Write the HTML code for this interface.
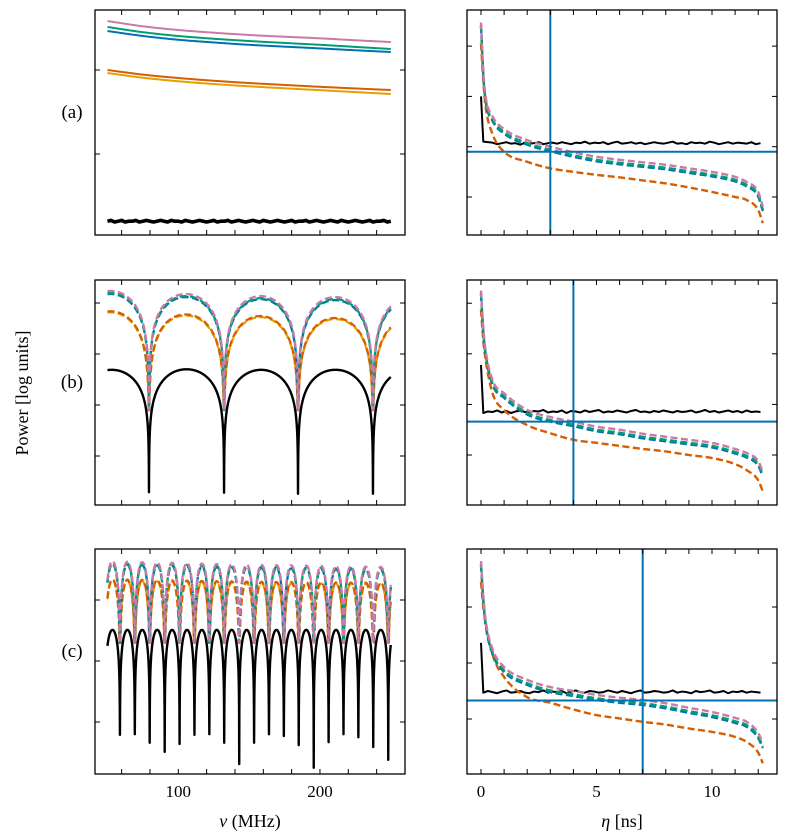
<!DOCTYPE html>
<html><head><meta charset="utf-8"><style>
html,body{margin:0;padding:0;background:#fff;}
svg{display:block;font-family:"Liberation Serif",serif;}
</style></head><body>
<svg id="fig" width="788" height="840" viewBox="0 0 788 840" xmlns="http://www.w3.org/2000/svg">
<defs>
<clipPath id="cL1"><rect x="95" y="10" width="310" height="225"/></clipPath>
<clipPath id="cL2"><rect x="95" y="280" width="310" height="225"/></clipPath>
<clipPath id="cL3"><rect x="95" y="549" width="310" height="225"/></clipPath>
<clipPath id="cR1"><rect x="467" y="10" width="310" height="225"/></clipPath>
<clipPath id="cR2"><rect x="467" y="280" width="310" height="225"/></clipPath>
<clipPath id="cR3"><rect x="467" y="549" width="310" height="225"/></clipPath>
</defs>
<text x="0" y="0" transform="translate(28,393) rotate(-90)" text-anchor="middle" font-size="18">Power [log units]</text>
<text x="72" y="118" text-anchor="middle" font-size="19">(a)</text>
<text x="72" y="388" text-anchor="middle" font-size="19">(b)</text>
<text x="72" y="657" text-anchor="middle" font-size="19">(c)</text>
<text x="250" y="827" text-anchor="middle" font-size="18"><tspan font-style="italic">ν</tspan> (MHz)</text>
<text x="622" y="827" text-anchor="middle" font-size="18"><tspan font-style="italic">η</tspan> [ns]</text>
</svg>
<script>
// ---------- data ----------
const nuEnv = [50, 75, 100, 125, 150, 175, 200, 225, 250];
// row a (left): smooth spectra
const aPink = [1.583, 1.520, 1.476, 1.444, 1.417, 1.396, 1.377, 1.354, 1.333];
const aGreen = [1.512, 1.450, 1.405, 1.372, 1.345, 1.322, 1.300, 1.275, 1.250];
const aBlue = [1.464, 1.405, 1.360, 1.328, 1.300, 1.278, 1.257, 1.235, 1.214];
const aVerm = [1.000, 0.945, 0.905, 0.872, 0.845, 0.822, 0.800, 0.780, 0.762];
const aYellow = [0.964, 0.908, 0.866, 0.833, 0.806, 0.782, 0.760, 0.737, 0.714];
const aBlack = [-0.80,-0.79,-0.81,-0.80,-0.79,-0.81,-0.80,-0.80,-0.79,-0.81,-0.80,-0.79,-0.80,-0.81,-0.80,-0.79,-0.80,-0.81,-0.79,-0.80,-0.80,-0.81,-0.79,-0.80,-0.81,-0.80,-0.79,-0.80,-0.81,-0.80,-0.79,-0.81,-0.80,-0.80,-0.79,-0.81,-0.80,-0.79,-0.80,-0.81,-0.80,-0.79,-0.80,-0.81,-0.79,-0.80,-0.81,-0.80,-0.79,-0.80,-0.81,-0.80,-0.79,-0.81,-0.80,-0.80,-0.79,-0.81,-0.80,-0.79,-0.80,-0.81,-0.80,-0.79,-0.80,-0.81,-0.79,-0.80,-0.81,-0.80,-0.79,-0.80,-0.81,-0.80,-0.79,-0.81,-0.80,-0.80,-0.79,-0.81,-0.80];
// row b (left): one reflection
const bDips = [79.3, 132.3, 184.5, 237.4];
const bBlackFloor = [-0.71, -0.72, -0.74, -0.74];
const bBlackEnv = [1.69, 1.69, 1.70, 1.70, 1.69, 1.69, 1.69, 1.69, 1.69];
const bPink = [3.24, 3.21, 3.18, 3.16, 3.14, 3.13, 3.12, 3.11, 3.10];
const bGreen = [3.20, 3.17, 3.14, 3.12, 3.10, 3.09, 3.08, 3.07, 3.06];
const bBlue = [3.18, 3.15, 3.12, 3.10, 3.08, 3.07, 3.06, 3.05, 3.04];
const bVerm = [2.84, 2.81, 2.78, 2.76, 2.75, 2.73, 2.71, 2.70, 2.69];
const bYellow = [2.82, 2.79, 2.76, 2.74, 2.73, 2.71, 2.69, 2.68, 2.67];
const bColFloor = [0.9, 0.9, 0.9, 0.9];
// row c (left): many reflections
const cDips = [58.8,69.3,79.8,90.4,100.9,111.4,121.9,132.4,143.0,153.5,164.0,174.5,185.0,195.6,206.1,216.6,227.1,237.6,248.2];
const cBlackFloor = [-0.21,-0.20,-0.34,-0.49,-0.36,-0.21,-0.20,-0.34,-0.69,-0.34,-0.20,-0.23,-0.38,-0.75,-0.33,-0.20,-0.25,-0.41,-0.62];
const cBlackEnv = [1.51, 1.51, 1.51, 1.51, 1.51, 1.51, 1.51, 1.51, 1.51];
const cPink = [2.64, 2.62, 2.61, 2.59, 2.58, 2.57, 2.56, 2.55, 2.54];
const cGreen = [2.61, 2.59, 2.58, 2.56, 2.55, 2.54, 2.53, 2.52, 2.51];
const cBlue = [2.59, 2.57, 2.56, 2.54, 2.53, 2.52, 2.51, 2.50, 2.49];
const cVerm = [2.34, 2.33, 2.32, 2.31, 2.30, 2.295, 2.29, 2.285, 2.28];
const cYellow = [2.32, 2.31, 2.30, 2.29, 2.28, 2.275, 2.27, 2.265, 2.26];
const cColFloor = [1.3,1.3,1.3,1.3,1.3,1.3,1.3,1.3,1.3,1.3,1.3,1.3,1.3,1.3,1.3,1.3,1.3,1.3,1.3];
// right panels: delay spectra
const etaGrid = [0,0.1,0.2,0.5,1,2,3,4,5,6,7,8,9,10,11,11.5,12,12.2];
const raPink = [3.47,2.5,2.0,1.6,1.35,1.13,1.0,0.89,0.8,0.74,0.69,0.64,0.57,0.5,0.4,0.3,0.1,-0.19];
const raGreen = [3.42,2.44,1.94,1.54,1.29,1.07,0.94,0.83,0.74,0.68,0.63,0.58,0.51,0.44,0.34,0.24,0.04,-0.25];
const raBlue = [3.40,2.41,1.91,1.51,1.26,1.04,0.91,0.80,0.71,0.65,0.60,0.55,0.48,0.41,0.31,0.21,0.01,-0.28];
const raVerm = [3.05,2.3,1.8,1.25,0.9,0.7,0.57,0.5,0.44,0.39,0.33,0.27,0.19,0.1,0.0,-0.06,-0.26,-0.52];
const rbPink = [3.25,2.5,2.07,1.48,1.22,0.89,0.75,0.66,0.56,0.5,0.42,0.36,0.3,0.24,0.12,0.04,-0.12,-0.33];
const rbGreen = [3.20,2.44,2.01,1.42,1.16,0.83,0.69,0.60,0.50,0.44,0.36,0.30,0.24,0.18,0.06,-0.02,-0.18,-0.39];
const rbBlue = [3.18,2.41,1.98,1.39,1.13,0.80,0.66,0.57,0.47,0.41,0.33,0.27,0.21,0.15,0.03,-0.05,-0.21,-0.42];
const rbVerm = [2.87,2.25,1.88,1.22,0.89,0.59,0.43,0.3,0.24,0.18,0.12,0.07,0.0,-0.06,-0.18,-0.3,-0.5,-0.72];
const rcPink = [2.82,2.2,1.77,1.25,0.93,0.70,0.57,0.5,0.43,0.38,0.34,0.28,0.2,0.125,0.02,-0.05,-0.25,-0.43];
const rcGreen = [2.77,2.14,1.71,1.19,0.87,0.64,0.51,0.44,0.37,0.32,0.28,0.22,0.14,0.065,-0.04,-0.11,-0.31,-0.49];
const rcBlue = [2.75,2.11,1.68,1.16,0.84,0.61,0.48,0.41,0.34,0.29,0.25,0.19,0.11,0.035,-0.07,-0.14,-0.34,-0.52];
const rcVerm = [2.45,2.0,1.71,1.15,0.75,0.39,0.29,0.17,0.07,0.01,-0.05,-0.1,-0.17,-0.23,-0.32,-0.41,-0.6,-0.79];
const blackStart = [2.0, 1.78, 1.36];
const raBlack = [1.10,1.09,1.08,1.05,1.07,1.09,1.06,1.07,1.04,1.08,1.06,1.07,1.09,1.05,1.07,1.08,1.06,1.09,1.07,1.05,1.08,1.07,1.10,1.06,1.08,1.07,1.09,1.05,1.08,1.10,1.06,1.07,1.09,1.06,1.08,1.05,1.07,1.09,1.07,1.06,1.08,1.10,1.06,1.07,1.05,1.09,1.07,1.08,1.06,1.10,1.08,1.05,1.07,1.09,1.06,1.08,1.07,1.06,1.09,1.05,1.07];
const rbBlack = [0.83,0.86,0.85,0.88,0.84,0.87,0.83,0.86,0.88,0.85,0.84,0.87,0.86,0.89,0.84,0.86,0.85,0.88,0.83,0.87,0.86,0.84,0.88,0.85,0.87,0.89,0.84,0.86,0.85,0.88,0.86,0.84,0.87,0.89,0.85,0.86,0.84,0.87,0.85,0.88,0.86,0.84,0.87,0.85,0.86,0.88,0.84,0.86,0.89,0.85,0.87,0.84,0.86,0.88,0.85,0.87,0.84,0.88,0.85,0.86,0.85];
const rcBlack = [0.47,0.50,0.48,0.46,0.49,0.51,0.47,0.48,0.50,0.47,0.46,0.49,0.48,0.51,0.47,0.49,0.48,0.50,0.46,0.49,0.51,0.48,0.47,0.50,0.49,0.47,0.48,0.51,0.49,0.47,0.50,0.48,0.46,0.49,0.51,0.47,0.48,0.50,0.49,0.47,0.48,0.51,0.47,0.49,0.48,0.46,0.50,0.48,0.49,0.51,0.47,0.48,0.50,0.46,0.49,0.48,0.50,0.47,0.49,0.48,0.47];
const hLine = [0.9, 0.66, 0.33];
const vLine = [3, 4, 7];
const nuTicks = [100, 200];
const etaTicks = [0, 5, 10];

// ---------- layout ----------
const NS = 'http://www.w3.org/2000/svg';
const svg = document.getElementById('fig');
const rows = [{t:10,b:235},{t:280,b:505},{t:549,b:774}];
const L = {x0:95, x1:405}, R = {x0:467, x1:777};
const yL = [{z:154,u:84},{z:456,u:51},{z:722,u:61}];
const yR = [{z:197,u:50.3},{z:455,u:50.6},{z:719,u:56}];
const xNu = v => 178.3 + (v - 100) * 1.4167;
const xEta = v => 481 + v * 23.1;
const C = {pink:'#CC79A7', green:'#009E73', blue:'#0072B2', verm:'#D55E00', yellow:'#E69F00', black:'#000'};

function mk(tag, attrs, parent) {
  const e = document.createElementNS(NS, tag);
  for (const k in attrs) e.setAttribute(k, attrs[k]);
  (parent || svg).appendChild(e);
  return e;
}
// monotone cubic (Fritsch-Carlson) interpolation through read points
function interp(xs, ys, x) {
  const n = xs.length;
  if (x <= xs[0]) return ys[0];
  if (x >= xs[n-1]) return ys[n-1];
  const d = [], m = [];
  for (let i = 0; i < n-1; i++) d.push((ys[i+1]-ys[i])/(xs[i+1]-xs[i]));
  m.push(d[0]);
  for (let i = 1; i < n-1; i++) m.push(d[i-1]*d[i] <= 0 ? 0 : (d[i-1]+d[i])/2);
  m.push(d[n-2]);
  for (let i = 0; i < n-1; i++) {
    if (d[i] === 0) { m[i] = 0; m[i+1] = 0; continue; }
    const a = m[i]/d[i], b = m[i+1]/d[i], s = a*a + b*b;
    if (s > 9) { const t = 3/Math.sqrt(s); m[i] = t*a*d[i]; m[i+1] = t*b*d[i]; }
  }
  let k = 0; while (x > xs[k+1]) k++;
  const h = xs[k+1]-xs[k], t = (x-xs[k])/h;
  const h00 = 2*t*t*t-3*t*t+1, h10 = t*t*t-2*t*t+t, h01 = -2*t*t*t+3*t*t, h11 = t*t*t-t*t;
  return h00*ys[k] + h10*h*m[k] + h01*ys[k+1] + h11*h*m[k+1];
}
function drawLine(g, pts, color, w, dash, name) {
  const p = mk('polyline', {points: pts.map(q => q[0].toFixed(2)+','+q[1].toFixed(2)).join(' '), fill:'none', stroke:color, 'stroke-width':w, 'stroke-linejoin':'round', 'stroke-dasharray':dash || 'none'}, g);
  
  
}
function osc(nu, env, dips, floors, D) {
  let k = 0; for (let i = 1; i < dips.length; i++) if (Math.abs(nu - dips[i]) < Math.abs(nu - dips[k])) k = i;
  const P = (dips[dips.length-1] - dips[0]) / (dips.length - 1);
  const s = Math.abs(Math.sin(Math.PI * (nu - dips[k]) / P));
  const v = interp(nuEnv, env, nu) + D * Math.log10(Math.max(s, 1e-9));
  return Math.max(v, floors[k]);
}
function oscPts(env, dips, floors, D, ym) {
  const xs = [];
  for (let v = 50; v <= 250.0001; v += 0.1) xs.push(v);
  dips.forEach(d => xs.push(d));
  xs.sort((a,b)=>a-b);
  return xs.map(v => [xNu(v), ym.z - ym.u * osc(v, env, dips, floors, D)]);
}
function frame(px, r, name) {
  const f = mk('rect', {x:px.x0, y:r.t, width:px.x1-px.x0, height:r.b-r.t, fill:'none', stroke:'#000', 'stroke-width':1.3});
  
  
}
function yTicks(px, r, ym, name) {
  for (let k = -2; k <= 5; k++) {
    const y = ym.z - ym.u * k;
    if (y < r.t + 4 || y > r.b - 4) continue;
    const t1 = mk('line', {x1:px.x0, x2:px.x0+5, y1:y, y2:y, stroke:'#000', 'stroke-width':1});
    
    
    const t2 = mk('line', {x1:px.x1-5, x2:px.x1, y1:y, y2:y, stroke:'#000', 'stroke-width':1});
    
    
  }
}
function xTicks(vals, xf, r, name) {
  vals.forEach(v => {
    const x = xf(v);
    const t1 = mk('line', {x1:x, x2:x, y1:r.b, y2:r.b-5, stroke:'#000', 'stroke-width':1});
    
    
    const t2 = mk('line', {x1:x, x2:x, y1:r.t, y2:r.t+5, stroke:'#000', 'stroke-width':1});
    
    
  });
}
const nuMinor = []; for (let v = 60; v <= 250; v += 20) nuMinor.push(v);
const etaMinor = []; for (let v = 0; v <= 12; v += 1) etaMinor.push(v);
const DASH = '7,3.5';

// ---------- left column ----------
const leftSets = [
  null,
  {env:[bPink,bGreen,bBlue,bVerm,bYellow], dips:bDips, floors:bColFloor, bEnv:bBlackEnv, bFloor:bBlackFloor},
  {env:[cPink,cGreen,cBlue,cVerm,cYellow], dips:cDips, floors:cColFloor, bEnv:cBlackEnv, bFloor:cBlackFloor}
];
const names = ['a','b','c'];
for (let i = 0; i < 3; i++) {
  const r = rows[i], ym = yL[i];
  const g = mk('g', {'clip-path':'url(#cL'+(i+1)+')'});
  
  
  if (i === 0) {
    const series = [[aYellow,C.yellow,'yellow'],[aVerm,C.verm,'vermillion'],[aBlue,C.blue,'blue'],[aGreen,C.green,'green'],[aPink,C.pink,'pink']];
    series.forEach(s => {
      const pts = []; for (let v = 50; v <= 250; v += 1) pts.push([xNu(v), ym.z - ym.u * interp(nuEnv, s[0], v)]);
      drawLine(g, pts, s[1], 2, null, 'spectrum-a-' + s[2]);
    });
    drawLine(g, aBlack.map((v, k) => [xNu(50 + k * 2.5), ym.z - ym.u * v]), C.black, 3.6, null, 'spectrum-a-black');
  } else {
    const d = leftSets[i];
    drawLine(g, oscPts(d.bEnv, d.dips, d.bFloor, 0.85, ym), C.black, 2.4, null, 'spectrum-' + names[i] + '-black');
    const cols = [C.pink, C.green, C.blue, C.verm, C.yellow];
    const cn = ['pink','green','blue','vermillion','yellow'];
    [4,3,2,1,0].forEach(j => {
      drawLine(g, oscPts(d.env[j], d.dips, d.floors, 1.0, ym), cols[j], 2.3, DASH, 'spectrum-' + names[i] + '-' + cn[j]);
    });
  }
  frame(L, r, 'spectrum-frame-' + names[i]);
  yTicks(L, r, ym, 'spectrum-ytick-' + names[i]);
  xTicks(nuMinor, xNu, r, 'spectrum-xtick-' + names[i]);
}
nuTicks.forEach(v => {
  const t = mk('text', {x:xNu(v), y:797, 'text-anchor':'middle', 'font-size':17});
  t.textContent = v;
  
  
});

// ---------- right column ----------
const rightSets = [
  [raPink, raGreen, raBlue, raVerm, raBlack],
  [rbPink, rbGreen, rbBlue, rbVerm, rbBlack],
  [rcPink, rcGreen, rcBlue, rcVerm, rcBlack]
];
for (let i = 0; i < 3; i++) {
  const r = rows[i], ym = yR[i], s = rightSets[i];
  const g = mk('g', {'clip-path':'url(#cR'+(i+1)+')'});
  
  
  const bpts = [[xEta(0), ym.z - ym.u * blackStart[i]]];
  s[4].forEach((v, k) => bpts.push([xEta(0.1 + k * 0.2), ym.z - ym.u * v]));
  drawLine(g, bpts, C.black, 2, null, 'delay-' + names[i] + '-black');
  const order = [[3,C.verm,'vermillion'],[2,C.blue,'blue'],[1,C.green,'green'],[0,C.pink,'pink']];
  order.forEach(o => {
    const pts = [];
    for (let e = 0; e <= 12.2001; e += 0.02) pts.push([xEta(e), ym.z - ym.u * interp(etaGrid, s[o[0]], e)]);
    drawLine(g, pts, o[1], 2.4, DASH, 'delay-' + names[i] + '-' + o[2]);
  });
  const h = mk('line', {x1:R.x0, x2:R.x1, y1:ym.z - ym.u * hLine[i], y2:ym.z - ym.u * hLine[i], stroke:C.blue, 'stroke-width':2}, g);
  
  
  const vl = mk('line', {x1:xEta(vLine[i]), x2:xEta(vLine[i]), y1:r.t, y2:r.b, stroke:C.blue, 'stroke-width':2}, g);
  
  
  frame(R, r, 'delay-frame-' + names[i]);
  yTicks(R, r, ym, 'delay-ytick-' + names[i]);
  xTicks(etaMinor, xEta, r, 'delay-xtick-' + names[i]);
}
etaTicks.forEach(v => {
  const t = mk('text', {x:xEta(v), y:797, 'text-anchor':'middle', 'font-size':17});
  t.textContent = v;
  
  
});
</script>
</body></html>
